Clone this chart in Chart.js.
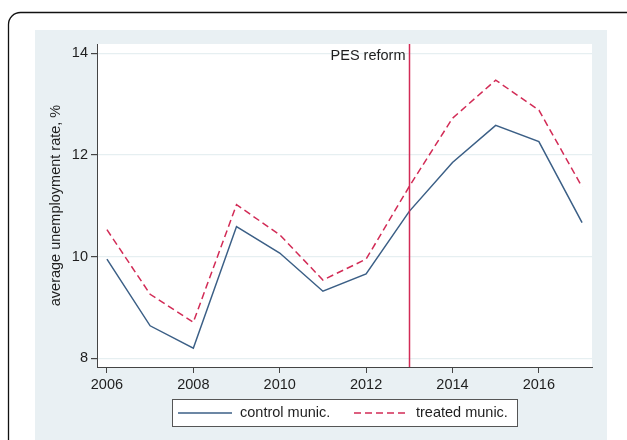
<!DOCTYPE html>
<html>
<head>
<meta charset="utf-8">
<script src="https://cdn.jsdelivr.net/npm/chart.js@4"></script>
<style>
  html, body { margin: 0; padding: 0; background: #fff; overflow: hidden; }
  canvas { display: block; }
</style>
</head>
<body>
<canvas id="myChart" width="627" height="440"></canvas>
<script>
// data
let years = [2006, 2007, 2008, 2009, 2010, 2011, 2012, 2013, 2014, 2015, 2016, 2017];
let control = [9.95, 8.64, 8.2, 10.59, 10.07, 9.32, 9.66, 10.89, 11.85, 12.58, 12.26, 10.67];
let treated = [10.53, 9.26, 8.71, 11.02, 10.43, 9.54, 9.95, 11.38, 12.72, 13.47, 12.88, 11.37];
let xTicks = [2006, 2008, 2010, 2012, 2014, 2016];
let yTicks = [8, 10, 12, 14];
let reformYear = 2013;
let reformLabel = 'PES reform';

const blue = '#3b5f86';
const red = '#d22b56';
const font = '"Liberation Sans", Arial, sans-serif';
const textCol = '#1e1e1e';

// frame, panel and white plot area
const backdrop = {
    id: 'backdrop',
    beforeDraw(chart) {
        const c = chart.ctx;
        const a = chart.chartArea;
        c.save();
        c.fillStyle = '#ffffff';
        c.fillRect(0, 0, chart.width, chart.height);
        // outer rounded frame
        c.strokeStyle = '#111';
        c.lineWidth = 1.3;
        c.beginPath();
        c.roundRect(8.5, 12.5, chart.width + 30, chart.height + 30, 12);
        c.stroke();
        // grey-blue panel
        c.fillStyle = '#e9f0f3';
        c.fillRect(35, 30, 572, chart.height - 30);
        // plot region
        c.fillStyle = '#ffffff';
        c.fillRect(a.left, a.top, a.right - a.left, a.bottom - a.top);
        c.restore();
    }
};

// reform line, its label and the boxed legend
const extras = {
    id: 'extras',
    afterDatasetsDraw(chart) {
        const c = chart.ctx;
        const a = chart.chartArea;
        const x = Math.round(chart.scales.x.getPixelForValue(reformYear)) + 0.5;
        c.save();
        c.strokeStyle = red;
        c.lineWidth = 1.5;
        c.beginPath();
        c.moveTo(x, a.top);
        c.lineTo(x, a.bottom);
        c.stroke();
        c.fillStyle = textCol;
        c.font = '14.5px ' + font;
        c.textAlign = 'right';
        c.textBaseline = 'middle';
        c.fillText(reformLabel, x - 4, 56);
        c.restore();
    },
    afterDraw(chart) {
        const c = chart.ctx;
        c.save();
        c.fillStyle = '#ffffff';
        c.fillRect(172, 399, 345, 27);
        c.strokeStyle = '#555';
        c.lineWidth = 1;
        c.strokeRect(172.5, 399.5, 345, 27);
        const slots = [178, 354];
        chart.data.datasets.forEach((ds, i) => {
            const x0 = slots[i];
            c.strokeStyle = ds.borderColor;
            c.lineWidth = 1.5;
            c.setLineDash(ds.borderDash || []);
            c.beginPath();
            c.moveTo(x0, 413);
            c.lineTo(x0 + 54, 413);
            c.stroke();
            c.setLineDash([]);
            c.fillStyle = textCol;
            c.font = '14.5px ' + font;
            c.textAlign = 'left';
            c.textBaseline = 'middle';
            c.fillText(ds.label, x0 + 62, 413);
        });
        c.restore();
    }
};

const ctx = document.getElementById('myChart').getContext('2d');
let myChart = new Chart(ctx, {
    type: 'line',
    data: {
        labels: years,
        datasets: [
            {
                label: 'control munic.',
                data: years.map((y, i) => ({ x: y, y: control[i] })),
                borderColor: blue,
                borderWidth: 1.5,
                pointRadius: 0,
                tension: 0,
                fill: false
            },
            {
                label: 'treated munic.',
                data: years.map((y, i) => ({ x: y, y: treated[i] })),
                borderColor: red,
                borderWidth: 1.5,
                borderDash: [7, 4],
                pointRadius: 0,
                tension: 0,
                fill: false
            }
        ]
    },
    options: {
        responsive: false,
        animation: false,
        devicePixelRatio: 1,
        layout: {
            padding: { left: 35, top: 44, right: 35, bottom: 43 }
        },
        plugins: {
            legend: { display: false },
            tooltip: { enabled: false }
        },
        scales: {
            x: {
                type: 'linear',
                min: 2005.77,
                max: 2017.23,
                afterBuildTicks: (scale) => { scale.ticks = xTicks.map(v => ({ value: v })); },
                afterFit: (scale) => { scale.height = 30; },
                border: { color: '#444', width: 1 },
                grid: {
                    drawOnChartArea: false,
                    tickLength: 6,
                    tickColor: '#444'
                },
                ticks: {
                    color: textCol,
                    padding: 3,
                    maxRotation: 0,
                    font: { family: font, size: 14.5 },
                    callback: (v) => String(v)
                }
            },
            y: {
                min: 7.83,
                max: 14.18,
                afterBuildTicks: (scale) => { scale.ticks = yTicks.map(v => ({ value: v })); },
                afterFit: (scale) => { scale.width = 62; },
                border: { color: '#444', width: 1 },
                grid: {
                    color: '#e6eff1',
                    lineWidth: 1.2,
                    tickLength: 6,
                    tickColor: '#444'
                },
                ticks: {
                    color: textCol,
                    padding: 3,
                    font: { family: font, size: 14.5 },
                    callback: (v) => String(v)
                },
                title: {
                    display: true,
                    text: 'average unemployment rate, %',
                    color: textCol,
                    font: { family: font, size: 14.5 },
                    padding: { top: 12, bottom: 0 }
                }
            }
        }
    },
    plugins: [backdrop, extras]
});
</script>
</body>
</html>
